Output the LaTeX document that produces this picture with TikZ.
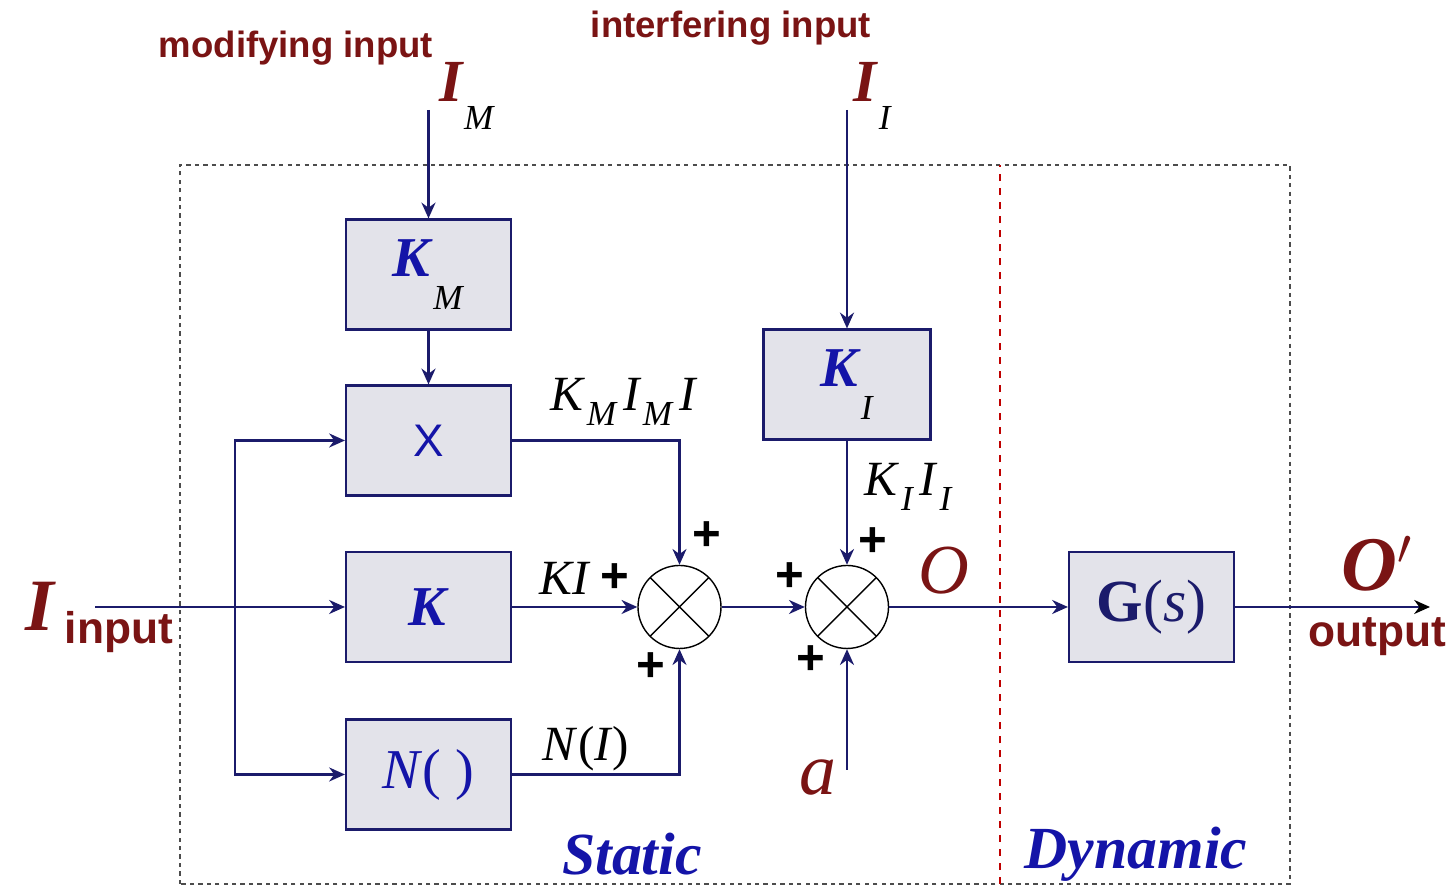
\documentclass[tikz,border=0pt]{standalone}
\usepackage{fontspec}
\setmainfont{Liberation Serif}
\setsansfont{Liberation Sans}
\usetikzlibrary{arrows.meta,positioning}
\definecolor{maroon}{HTML}{7A1414}
\definecolor{wire}{HTML}{1B1B6B}
\definecolor{blkfill}{HTML}{E3E3EA}
\definecolor{lblue}{HTML}{1414A8}
\newcommand{\fsz}[1]{\fontsize{#1}{#1}\selectfont}
\newcommand{\lsub}[2][-0.7ex]{\raisebox{#1}{\fsz{10}\textit{#2}}}

\begin{document}
\begin{tikzpicture}[>={Stealth[length=4.5pt,width=4pt]},font=\small]
\tikzstyle{b}=[draw=wire,line width=0.6pt,fill=blkfill,minimum width=1.65cm,minimum height=1.1cm,inner sep=0pt]
\tikzstyle{sm}=[draw,circle,fill=white,line width=0.4pt,minimum size=0.83cm,inner sep=0pt,path picture={\draw (path picture bounding box.north west)--(path picture bounding box.south east) (path picture bounding box.north east)--(path picture bounding box.south west);}]
\tikzstyle{w}=[wire,line width=0.6pt]
\tikzstyle{lab}=[font=\sffamily\bfseries\fsz{10.4},text=maroon]
\tikzstyle{pl}=[font=\sffamily\bfseries\fsz{14},inner sep=0pt]
\tikzstyle{var}=[font=\fsz{14},inner sep=0pt]
\useasboundingbox (0,0) rectangle (14.54,8.87);
\draw[black!70,line width=0.4pt,dash pattern=on 1.2pt off 1.2pt] (1.80,0.03) rectangle (12.90,7.22);
\draw[red!75!black,line width=0.4pt,dash pattern=on 2pt off 2pt] (10.00,0.03) -- (10.00,7.22);
\node[b] (km) at (4.285,6.125) {\fsz{16}\textcolor{lblue}{\textbf{\textit{K}}}\lsub[-1.3ex]{M}};
\node[b] (mul) at (4.285,4.465) {\sffamily\fsz{13}\textcolor{lblue}{X}};
\node[b] (k) at (4.285,2.80) {\fsz{16}\textcolor{lblue}{\textbf{\textit{K}}}};
\node[b] (n) at (4.285,1.125) {\fsz{16}\textcolor{lblue}{\textit{N}( )}};
\node[b,minimum width=1.67cm] (ki) at (8.47,5.025) {\fsz{16}\textcolor{lblue}{\textbf{\textit{K}}}\lsub[-1.3ex]{I}};
\node[b] (g) at (11.515,2.80) {\fsz{17}\textcolor{wire}{\textbf{G}(\textit{s})}};
\node[sm] (s1) at (6.795,2.80) {};
\node[sm] (s2) at (8.47,2.80) {};
\coordinate (in) at (0.95,2.80);
\coordinate (br) at (2.35,2.80);
\coordinate (im) at (4.285,7.77);
\coordinate (ii) at (8.47,7.77);
\coordinate (a) at (8.47,1.17);
\coordinate (out) at (14.30,2.80);
\draw[w,->] (in) -- (k);
\draw[w,->] (br) |- (mul);
\draw[w,->] (br) |- (n);
\draw[w,->] (im) -- (km);
\draw[w,->] (km) -- (mul);
\draw[w,->] (mul) -| (s1);
\draw[w,->] (k) -- (s1);
\draw[w,->] (n) -| (s1);
\draw[w,->] (s1) -- (s2);
\draw[w,->] (ii) -- (ki);
\draw[w,->] (ki) -- (s2);
\draw[w,->] (a) -- (s2);
\draw[w,->] (s2) -- (g);
\draw[w,-{Stealth[length=4.5pt,width=4pt,color=black]}] (g) -- (out);
\node[lab] (ml) at (2.96,8.39) {modifying input};
\node[lab] (il) at (7.31,8.59) {interfering input};
\node (iml) at (4.67,7.91) {\fsz{17}\textcolor{maroon}{\textbf{\textit{I}}}\lsub[-1.0ex]{M}};
\node (iil) at (8.73,7.91) {\fsz{17}\textcolor{maroon}{\textbf{\textit{I}}}\lsub[-1.0ex]{I}};
\node (inl) at (0.41,2.81) {\fsz{21}\textcolor{maroon}{\textbf{\textit{I}}}};
\node[lab,font=\sffamily\bfseries\fsz{12.6}] (inw) at (1.19,2.55) {input};
\node[var] (kmil) at (6.24,4.85) {\textit{K\kern1pt\lsub{M}\kern2pt I\kern1pt\lsub{M}\kern2pt I}};
\node[var] (kil) at (5.65,3.09) {\textit{KI}};
\node[pl] (p1) at (6.15,3.09) {+};
\node[pl] (p2) at (7.07,3.51) {+};
\node[pl] (p3) at (6.51,2.20) {+};
\node[var] (kiil) at (9.08,4.00) {\textit{K\kern1pt\lsub{I}\kern2pt I\kern1pt\lsub{I}}};
\node[pl] (p4) at (8.73,3.45) {+};
\node[pl] (p5) at (7.90,3.10) {+};
\node[pl] (p6) at (8.11,2.27) {+};
\node (ol) at (9.44,3.16) {\fsz{20}\textcolor{maroon}{\textit{O}}};
\node (opl) at (13.77,3.23) {\fsz{22}\textcolor{maroon}{\textbf{\textit{O$'$}}}};
\node[lab,font=\sffamily\bfseries\fsz{12.6}] (outw) at (13.77,2.50) {output};
\node[var] (nil) at (5.86,1.38) {\textit{N}(\textit{I})};
\node (al) at (8.18,1.09) {\fsz{21}\textcolor{maroon}{\textit{a}}};
\node (st) at (6.32,0.33) {\fsz{17}\textcolor{lblue}{\textbf{\textit{Static}}}};
\node (dy) at (11.36,0.33) {\fsz{17}\textcolor{lblue}{\textbf{\textit{Dynamic}}}};
\end{tikzpicture}
\end{document}
